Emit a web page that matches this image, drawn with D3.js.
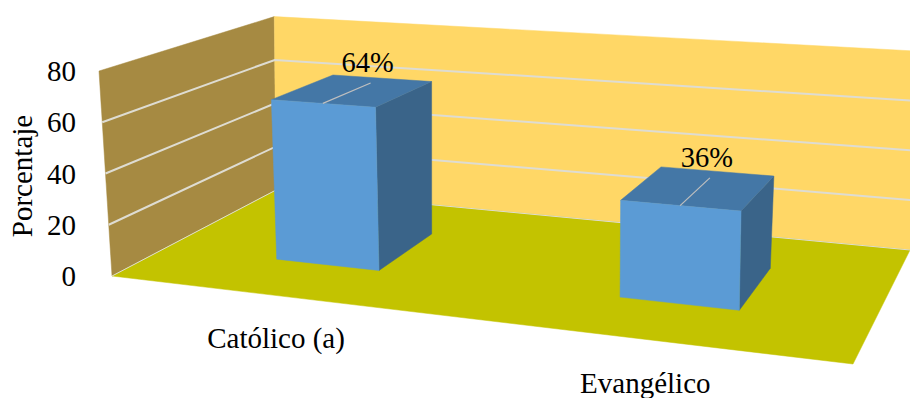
<!DOCTYPE html>
<html lang="es">
<head>
<meta charset="utf-8">
<title>Porcentaje por religión</title>
<script src="https://cdn.jsdelivr.net/npm/d3@7/dist/d3.min.js"></script>
<style>
  html, body { margin: 0; padding: 0; background: #fff; }
  svg { display: block; }
  text { font-family: "Liberation Serif", "Times New Roman", serif; fill: #000; }
</style>
</head>
<body>
<svg id="chart" width="910" height="398"></svg>
<script>
// Chart data
const categories = ["Católico (a)", "Evangélico"];
const values = [64, 36];
const valueLabels = ["64%", "36%"];
const yTicks = [0, 20, 40, 60, 80];
const yTitle = "Porcentaje";

const colors = {
  leftWall: "#A68A42", backWall: "#FFD766", floor: "#C3C300",
  grid: "#DEDCD2", front: "#5B9BD5", top: "#4477A6", side: "#3A6489", leader: "#BFBFBF"
};

// Projective map of the unit square onto a screen quadrilateral,
// corners given as front-left, front-right, back-right, back-left.
// Returns the screen point together with its perspective divisor.
function quadMap([p0, p1, p2, p3]) {
  const dx1 = p1[0] - p2[0], dx2 = p3[0] - p2[0], sx = p0[0] - p1[0] + p2[0] - p3[0];
  const dy1 = p1[1] - p2[1], dy2 = p3[1] - p2[1], sy = p0[1] - p1[1] + p2[1] - p3[1];
  const det = dx1 * dy2 - dx2 * dy1;
  const g = (sx * dy2 - dx2 * sy) / det, h = (dx1 * sy - sx * dy1) / det;
  const a = p1[0] - p0[0] + g * p1[0], b = p3[0] - p0[0] + h * p3[0], c = p0[0];
  const d = p1[1] - p0[1] + g * p1[1], e = p3[1] - p0[1] + h * p3[1], f = p0[1];
  return (u, v) => {
    const w = 1 + g * u + h * v;
    return { x: (a * u + b * v + c) / w, y: (d * u + e * v + f) / w, w };
  };
}

// Floor plane on screen, and the camera's vertical extent at the axis maximum
const floorAt = quadMap([[112, 276], [853, 364], [910, 250], [276, 190]]);
const riseAtMax = 205;
const leanAtMax = (u, v) => 16 * u + 11 * v - 13;

const yMax = yTicks[yTicks.length - 1];
const height01 = d3.scaleLinear().domain([0, yMax]).range([0, 1]);
const xBand = d3.scaleBand().domain(categories).range([0.005, 1.005]).paddingInner(0.686).paddingOuter(0.343);
const depthFront = 0.30, depthBack = 0.69;
const leaderReach = 0.8;

function project(u, v, value) {
  const t = height01(value), f = floorAt(u, v);
  return [f.x + t * leanAtMax(u, v) / f.w, f.y - t * riseAtMax / f.w];
}

const svg = d3.select("#chart");
const poly = d3.line();
const face = (pts, fill) => svg.append("path")
  .attr("d", poly(pts) + "Z").attr("fill", fill).attr("stroke", fill).attr("stroke-width", 0.5);

// Walls and floor
face([project(0, 0, 0), project(0, 1, 0), project(0, 1, yMax), project(0, 0, yMax)], colors.leftWall);
face([project(0, 1, 0), project(1, 1, 0), project(1, 1, yMax), project(0, 1, yMax)], colors.backWall);
face([project(0, 0, 0), project(1, 0, 0), project(1, 1, 0), project(0, 1, 0)], colors.floor);

// Gridlines across both walls, including the wall/floor seam at zero
yTicks.slice(0, -1).forEach(t => {
  svg.append("path")
    .attr("d", poly([project(0, 0, t), project(0, 1, t), project(1, 1, t)]))
    .attr("fill", "none")
    .attr("stroke", colors.grid)
    .attr("stroke-width", t === 0 ? 1 : 2);
});

// Bars
categories.forEach((cat, i) => {
  const u0 = xBand(cat), u1 = u0 + xBand.bandwidth(), val = values[i];
  const uMid = u0 + xBand.bandwidth() / 2;
  face([project(u1, depthFront, 0), project(u1, depthBack, 0), project(u1, depthBack, val), project(u1, depthFront, val)], colors.side);
  face([project(u0, depthFront, val), project(u1, depthFront, val), project(u1, depthBack, val), project(u0, depthBack, val)], colors.top);
  face([project(u0, depthFront, 0), project(u1, depthFront, 0), project(u1, depthFront, val), project(u0, depthFront, val)], colors.front);

  // Leader from the front of the bar's top towards its value label
  const leaderEnd = project(uMid, depthFront + (depthBack - depthFront) * leaderReach, val);
  svg.append("path")
    .attr("d", poly([project(uMid, depthFront, val), leaderEnd]))
    .attr("fill", "none").attr("stroke", colors.leader).attr("stroke-width", 1.2);
  svg.append("text")
    .attr("x", leaderEnd[0] - 3).attr("y", leaderEnd[1] - 11)
    .attr("text-anchor", "middle").attr("font-size", 28.5)
    .text(valueLabels[i]);
});

// Value axis labels, following the front edge of the left wall
yTicks.forEach(t => {
  const p = project(0, 0, t);
  svg.append("text")
    .attr("x", 76).attr("y", p[1] + 10)
    .attr("text-anchor", "end").attr("font-size", 29)
    .text(t);
});

// Axis title
svg.append("text")
  .attr("transform", "translate(32,176) rotate(-90)")
  .attr("text-anchor", "middle").attr("font-size", 29)
  .text(yTitle);

// Category labels below the front edge of the floor
const labelDrop = d3.scaleLinear().domain([0, 1]).range([51, 54]);
categories.forEach(cat => {
  const u = xBand(cat) + xBand.bandwidth() / 2;
  const p = project(u, 0, 0);
  svg.append("text")
    .attr("x", p[0] - 3).attr("y", p[1] + labelDrop(u))
    .attr("text-anchor", "middle").attr("font-size", 29)
    .text(cat);
});
</script>
</body>
</html>
